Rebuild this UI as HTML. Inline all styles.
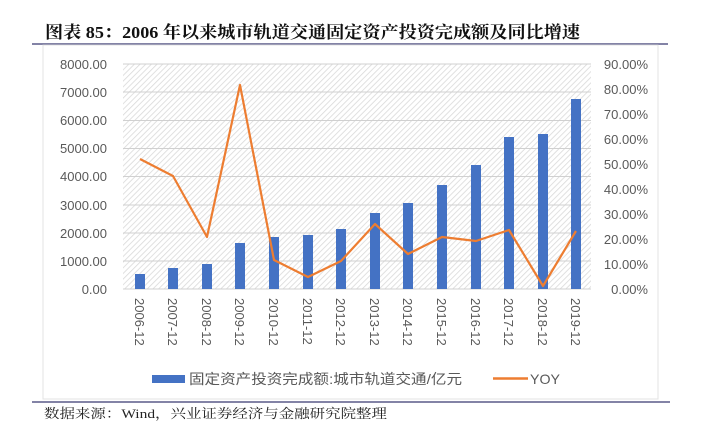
<!DOCTYPE html>
<html><head><meta charset="utf-8"><style>
body{margin:0;background:#fff;width:721px;height:423px;overflow:hidden}
svg{display:block}
text{font-family:"Liberation Sans","Noto Sans CJK SC",sans-serif}
</style></head><body>
<svg width="721" height="423" viewBox="0 0 721 423">
<defs>
<pattern id="h" width="4" height="4" patternUnits="userSpaceOnUse" patternTransform="rotate(45)">
<rect width="4" height="4" fill="#fff"/><line x1="0" y1="0" x2="0" y2="4" stroke="#d9d9d9" stroke-width="1.6"/>
</pattern>
</defs>
<text x="45" y="38" font-size="17" font-weight="bold" fill="#111" textLength="535" lengthAdjust="spacingAndGlyphs" style="font-family:'Liberation Serif','Noto Serif CJK SC',serif">图表 85：2006 年以来城市轨道交通固定资产投资完成额及同比增速</text>
<line x1="32" y1="44" x2="668" y2="44" stroke="#5a5a88" stroke-width="1.5"/>
<rect x="43" y="45" width="615" height="354" fill="#fff" stroke="#e3e3e3"/>
<rect x="123" y="64" width="468" height="225" fill="url(#h)"/>
<g stroke="#d0d0d0" stroke-width="1">
<line x1="123" y1="64" x2="591" y2="64"/><line x1="123" y1="92" x2="591" y2="92"/><line x1="123" y1="120.5" x2="591" y2="120.5"/><line x1="123" y1="148.5" x2="591" y2="148.5"/><line x1="123" y1="176.5" x2="591" y2="176.5"/><line x1="123" y1="205" x2="591" y2="205"/><line x1="123" y1="233" x2="591" y2="233"/><line x1="123" y1="261" x2="591" y2="261"/><line x1="123" y1="289" x2="591" y2="289"/>
</g>
<g font-size="13" fill="#595959" text-anchor="end">
<text x="107" y="69">8000.00</text><text x="107" y="97">7000.00</text><text x="107" y="125">6000.00</text><text x="107" y="153">5000.00</text><text x="107" y="181">4000.00</text><text x="107" y="210">3000.00</text><text x="107" y="238">2000.00</text><text x="107" y="266">1000.00</text><text x="107" y="294">0.00</text>
</g>
<g font-size="13" fill="#595959" text-anchor="end">
<text x="648" y="69">90.00%</text><text x="648" y="94">80.00%</text><text x="648" y="119">70.00%</text><text x="648" y="144">60.00%</text><text x="648" y="169">50.00%</text><text x="648" y="194">40.00%</text><text x="648" y="219">30.00%</text><text x="648" y="244">20.00%</text><text x="648" y="269">10.00%</text><text x="648" y="294">0.00%</text>
</g>
<g fill="#4472c4">
<rect x="135" y="274" width="10" height="15"/><rect x="168" y="268" width="10" height="21"/><rect x="202" y="264" width="10" height="25"/><rect x="235" y="243" width="10" height="46"/><rect x="269" y="237" width="10" height="52"/><rect x="303" y="235" width="10" height="54"/><rect x="336" y="229" width="10" height="60"/><rect x="370" y="213" width="10" height="76"/><rect x="403" y="203" width="10" height="86"/><rect x="437" y="185" width="10" height="104"/><rect x="471" y="165" width="10" height="124"/><rect x="504" y="137" width="10" height="152"/><rect x="538" y="134" width="10" height="155"/><rect x="571" y="99" width="10" height="190"/>
</g>
<polyline fill="none" stroke="#ed7d31" stroke-width="2.2" stroke-linejoin="round" points="140,159 173,176 207,237 240,85 274,260 308,277 341,261 375,224 408,254 442,237 476,241 509,230 543,286 576,231"/>
<g font-size="13" fill="#595959">
<text transform="translate(135,298) rotate(90)">2006-12</text><text transform="translate(168,298) rotate(90)">2007-12</text><text transform="translate(202,298) rotate(90)">2008-12</text><text transform="translate(235,298) rotate(90)">2009-12</text><text transform="translate(269,298) rotate(90)">2010-12</text><text transform="translate(303,298) rotate(90)">2011-12</text><text transform="translate(336,298) rotate(90)">2012-12</text><text transform="translate(370,298) rotate(90)">2013-12</text><text transform="translate(403,298) rotate(90)">2014-12</text><text transform="translate(437,298) rotate(90)">2015-12</text><text transform="translate(471,298) rotate(90)">2016-12</text><text transform="translate(504,298) rotate(90)">2017-12</text><text transform="translate(538,298) rotate(90)">2018-12</text><text transform="translate(571,298) rotate(90)">2019-12</text>
</g>
<rect x="152" y="375" width="33" height="8" fill="#4472c4"/>
<text x="189" y="384" font-size="14" fill="#595959" textLength="273" lengthAdjust="spacingAndGlyphs">固定资产投资完成额:城市轨道交通/亿元</text>
<line x1="493" y1="378.5" x2="528" y2="378.5" stroke="#ed7d31" stroke-width="2.4"/>
<text x="530" y="384" font-size="14" fill="#595959" textLength="30" lengthAdjust="spacingAndGlyphs">YOY</text>
<line x1="32" y1="402" x2="670" y2="402" stroke="#5a5a88" stroke-width="1.5"/>
<text x="44" y="418" font-size="13" fill="#222" textLength="343" lengthAdjust="spacingAndGlyphs" style="font-family:'Liberation Serif','Noto Serif CJK SC',serif">数据来源：Wind，兴业证券经济与金融研究院整理</text>
</svg>
</body></html>
